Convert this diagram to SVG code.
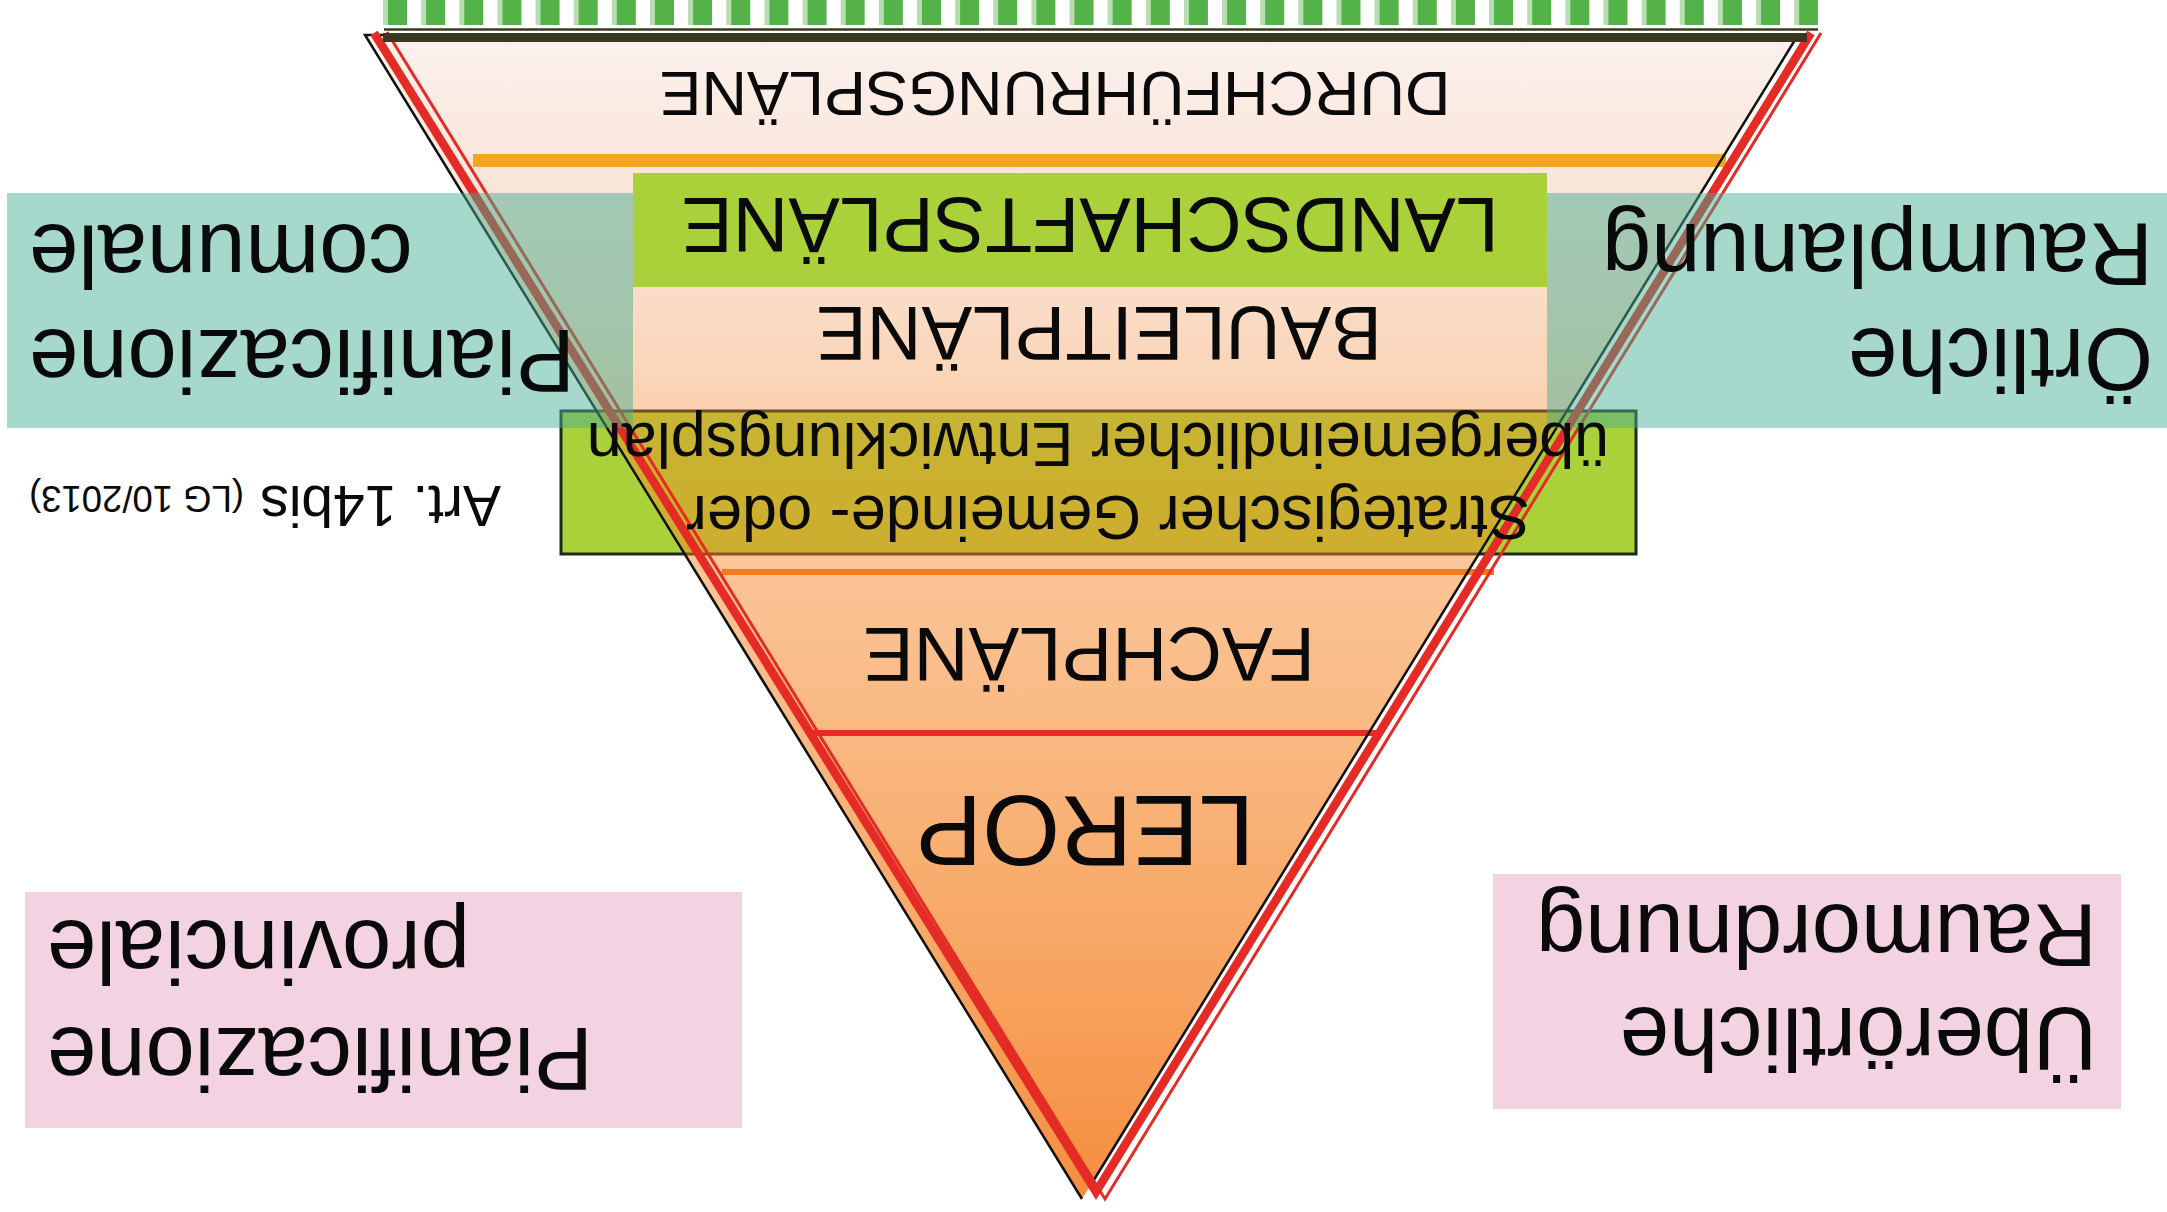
<svg xmlns="http://www.w3.org/2000/svg" width="2167" height="1212" viewBox="0 0 2167 1212">
<defs>
<linearGradient id="triGrad" gradientUnits="userSpaceOnUse" x1="0" y1="35" x2="0" y2="1199">
<stop offset="0" stop-color="#e08a66" stop-opacity="0.12"/>
<stop offset="0.25" stop-color="#f08a40" stop-opacity="0.32"/>
<stop offset="0.38" stop-color="#f7841e" stop-opacity="0.42"/>
<stop offset="0.55" stop-color="#f5862a" stop-opacity="0.55"/>
<stop offset="0.75" stop-color="#f5862a" stop-opacity="0.7"/>
<stop offset="1" stop-color="#f5802a" stop-opacity="0.9"/>
</linearGradient>
<style>
.t{font-family:"Liberation Sans",Arial,sans-serif;fill:#0a0a0a}
.red{fill:none;stroke:#e52b25;stroke-linejoin:miter;stroke-miterlimit:10}
.blk{fill:none;stroke:#111;stroke-width:2.5}
.teal{fill:#45ad93;opacity:0.48}
.pink{fill:#f3d3e1}
.lime{fill:#aad13a}
</style>
</defs>
<rect width="2167" height="1212" fill="#fff"/>

<g id="strategic-box">
<rect x="561" y="411" width="1075" height="143" fill="#aad13a" stroke="#1f2a1f" stroke-width="3"/>
</g>

<g id="triangle">
<polygon points="365,35 1798,35 1092,1183 1082,1199" fill="url(#triGrad)"/>
</g>

<g id="landscape-box">
<rect class="lime" x="633" y="173" width="914" height="114"/>
</g>

<g id="separators">
<rect x="473" y="154" width="1253" height="13" fill="#f4a621"/>
<line x1="722" y1="572" x2="1494" y2="572" stroke="#f47a20" stroke-width="6"/>
<line x1="811" y1="733" x2="1380" y2="733" stroke="#e52b25" stroke-width="6"/>
</g>

<g id="outlines">
<path class="blk" d="M383,35 L365,35 L1082,1199"/>
<path class="blk" d="M1798,35 L1092,1183"/>
<path class="red" stroke-width="8.5" d="M374,33 L1096,1192 L1811,33"/>
<path class="red" stroke-width="3" d="M387,32 L1105,1199 L1821,33"/>
</g>

<g id="top-band">
<line x1="383" y1="12.5" x2="1813" y2="12.5" stroke="#b8ddb0" stroke-width="25" stroke-dasharray="19 19.14"/>
<line x1="388" y1="12.5" x2="1818" y2="12.5" stroke="#54b348" stroke-width="25" stroke-dasharray="19 19.14"/>
<line x1="384" y1="29.5" x2="1818" y2="29.5" stroke="#3b3820" stroke-width="2.5"/>
<rect x="383" y="33" width="1424" height="9" fill="#3b3820"/>
</g>

<g id="teal-boxes">
<rect class="teal" x="7" y="193" width="626" height="235"/>
<rect class="teal" x="1547" y="193" width="620" height="235"/>
</g>

<g id="pink-boxes">
<rect class="pink" x="25" y="892" width="717" height="236"/>
<rect class="pink" x="1493" y="874" width="628" height="235"/>
</g>

<g id="labels">
<text class="t" font-size="63" text-anchor="middle" transform="translate(1055,72) rotate(180)">DURCHFÜHRUNGSPLÄNE</text>
<text class="t" font-size="77" text-anchor="middle" transform="translate(1090,198) rotate(180)">LANDSCHAFTSPLÄNE</text>
<text class="t" font-size="76" text-anchor="middle" transform="translate(1099,307) rotate(180)">BAULEITPLÄNE</text>
<text class="t" font-size="63" text-anchor="middle" transform="translate(1108,496) rotate(180)">Strategischer Gemeinde- oder</text>
<text class="t" font-size="63" text-anchor="middle" transform="translate(1098,423) rotate(180)">übergemeindlicher Entwicklungsplan</text>
<text class="t" font-size="76" text-anchor="middle" transform="translate(1089,628) rotate(180)">FACHPLÄNE</text>
<text class="t" font-size="100" text-anchor="middle" transform="translate(1085,796) rotate(180)">LEROP</text>

<text class="t" font-size="88.5" text-anchor="end" transform="translate(29,330) rotate(180)">Pianificazione</text>
<text class="t" font-size="88.5" text-anchor="end" transform="translate(29,225) rotate(180)">comunale</text>
<text class="t" font-size="88.5" text-anchor="start" transform="translate(2153,224) rotate(180)">Raumplanung</text>
<text class="t" font-size="88.5" text-anchor="start" transform="translate(2153,329) rotate(180)">Örtliche</text>

<text class="t" font-size="57" text-anchor="start" transform="translate(501,486) rotate(180)">Art. 14bis<tspan font-size="36.5" dx="6"> (LG 10/2013)</tspan></text>

<text class="t" font-size="88.5" text-anchor="end" transform="translate(47,1028) rotate(180)">Pianificazione</text>
<text class="t" font-size="88.5" text-anchor="end" transform="translate(47,921) rotate(180)">provinciale</text>
<text class="t" font-size="88.5" text-anchor="start" transform="translate(2097,905) rotate(180)">Raumordnung</text>
<text class="t" font-size="88.5" text-anchor="start" transform="translate(2097,1008) rotate(180)">Überörtliche</text>
</g>
</svg>
